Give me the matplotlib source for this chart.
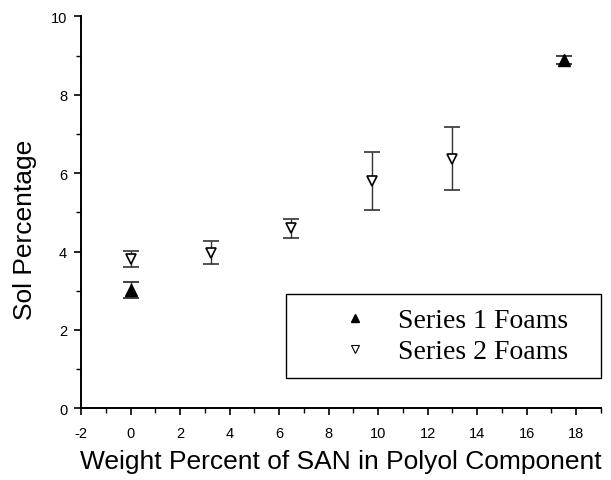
import numpy as np
import matplotlib.pyplot as plt
from matplotlib.lines import Line2D
from matplotlib.ticker import MultipleLocator

plt.rcParams['axes.unicode_minus'] = False

# Sol fraction vs SAN content
san_s1 = [0.0, 17.5]
sol_s1 = [3.02, 8.89]
err_s1 = [0.2, 0.1]

san_s2 = [0.0, 3.25, 6.5, 9.75, 13.0]
sol_s2 = [3.81, 3.97, 4.59, 5.80, 6.37]
err_s2 = [0.2, 0.3, 0.24, 0.75, 0.80]

fig = plt.figure(figsize=(6.11, 4.81), dpi=100)
ax = fig.add_axes([0.1326, 0.149, 0.851, 0.815])

ax.errorbar(san_s2, sol_s2, yerr=err_s2, fmt='v', ms=7.5, mfc='white', mec='black',
            mew=1.2, ecolor='#333333', elinewidth=1.0, capsize=6, capthick=1.3, zorder=3)
ax.errorbar(san_s1, sol_s1, yerr=err_s1, fmt='^', ms=8, mfc='black', mec='black',
            ecolor='#333333', elinewidth=1.0, capsize=6, capthick=1.3, zorder=3)

ax.set_xlim(-2, 19)
ax.set_ylim(0, 10)
ax.xaxis.set_major_locator(MultipleLocator(2))
ax.xaxis.set_minor_locator(MultipleLocator(1))
ax.yaxis.set_major_locator(MultipleLocator(2))
ax.yaxis.set_minor_locator(MultipleLocator(1))

for side in ['top', 'right']:
    ax.spines[side].set_visible(False)
for side in ['left', 'bottom']:
    ax.spines[side].set_linewidth(1.4)

ax.tick_params(which='major', direction='out', length=5, width=1.2,
               labelsize=10.5, labelfontfamily='Liberation Sans')
ax.tick_params(axis='x', which='major', pad=8)
ax.tick_params(axis='y', which='major', pad=5)
ax.tick_params(which='minor', direction='out', length=3.5, width=1.0)

ax.set_xlabel('Weight Percent of SAN in Polyol Component', fontsize=19,
              family='Liberation Sans', labelpad=6)
ax.set_ylabel('Sol Percentage', fontsize=19, family='Liberation Sans')
ax.yaxis.set_label_coords(-0.085, 0.457)

handles = [Line2D([], [], ls='none', marker='^', ms=6, mfc='black', mec='black'),
           Line2D([], [], ls='none', marker='v', ms=6, mfc='white', mec='black', mew=0.8)]
leg = ax.legend(handles, ['Series 1 Foams', 'Series 2 Foams'],
                loc='lower left', bbox_to_anchor=(0.394, 0.077, 0.606, 0.22), mode='expand',
                borderaxespad=0, prop={'family': 'Liberation Serif', 'size': 20},
                fancybox=False, framealpha=1, edgecolor='black',
                borderpad=0.5, labelspacing=0.2, handlelength=4.0, handletextpad=-0.45)
leg.get_frame().set_linewidth(1.0)

fig.savefig('out.png', dpi=100)
